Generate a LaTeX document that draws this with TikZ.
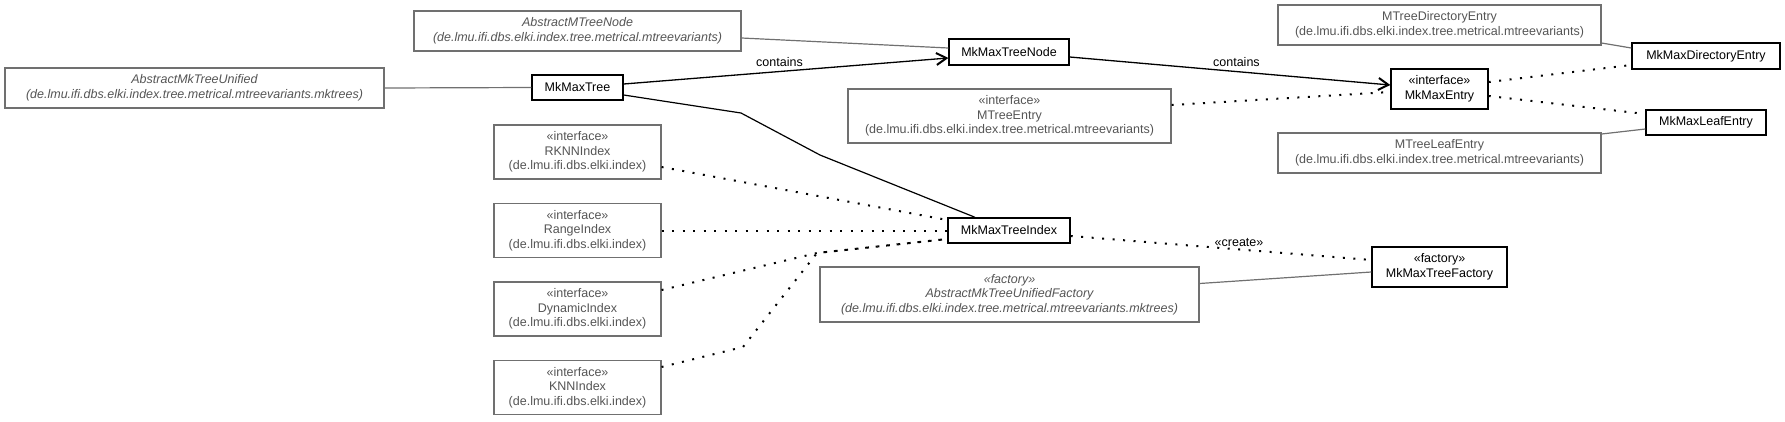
\documentclass[tikz,border=0pt]{standalone}
\usepackage{fontspec}
\setmainfont{Liberation Sans}
\usepackage{xcolor}
\usepackage{tikz}
\usetikzlibrary{positioning,calc,arrows.meta}

\definecolor{umlline}{HTML}{707070}
\definecolor{umltext}{HTML}{555555}

\begin{document}
\begin{tikzpicture}[
    x=1pt, y=-1pt,
    every node/.style={font=\fontsize{12.5}{14.5}\selectfont, align=center, inner sep=0pt},
    cls/.style={draw, line width=1.4pt, fill=white, text=black},
    ext/.style={draw=umlline, line width=1.1pt, fill=white, text=umltext},
    gen/.style={draw=umlline, line width=1.2pt},
    assoc/.style={draw, line width=1.3pt, -{Straight Barb[length=10pt,width=12pt,line width=2pt]}},
    link/.style={draw, line width=1.2pt},
    dep/.style={draw, line width=2pt, dash pattern=on 2pt off 8.5pt},
    lbl/.style={font=\fontsize{12.5}{14.5}\selectfont, text=black}
]
    \useasboundingbox (0,0) rectangle (1785,421);

    % Classes of this package
    \node [cls, minimum width=91pt, minimum height=25pt] (mkmaxtree) at (577.5,87.5) {MkMaxTree};
    \node [cls, minimum width=120pt, minimum height=26pt] (treenode) at (1009,52) {MkMaxTreeNode};
    \node [cls, minimum width=122pt, minimum height=25pt] (treeindex) at (1009,230.5) {MkMaxTreeIndex};
    \node [cls, minimum width=97pt, minimum height=40pt] (entry) at (1439.5,89) {«interface»\\MkMaxEntry};
    \node [cls, minimum width=135pt, minimum height=40pt] (factory) at (1439.5,267) {«factory»\\MkMaxTreeFactory};
    \node [cls, minimum width=148pt, minimum height=26pt] (direntry) at (1706,56) {MkMaxDirectoryEntry};
    \node [cls, minimum width=120pt, minimum height=25pt] (leafentry) at (1706,122.5) {MkMaxLeafEntry};

    % Outside classes
    \node [ext, font=\fontsize{12.5}{14.5}\selectfont\itshape, minimum width=379pt, minimum height=40pt] (unified) at (194.5,88)
        {AbstractMkTreeUnified\\(de.lmu.ifi.dbs.elki.index.tree.metrical.mtreevariants.mktrees)};
    \node [ext, font=\fontsize{12.5}{14.5}\selectfont\itshape, minimum width=327pt, minimum height=40pt] (mtreenode) at (577.5,31)
        {AbstractMTreeNode\\(de.lmu.ifi.dbs.elki.index.tree.metrical.mtreevariants)};
    \node [ext, minimum width=323pt, minimum height=54pt] (mtreeentry) at (1009.5,116)
        {«interface»\\MTreeEntry\\(de.lmu.ifi.dbs.elki.index.tree.metrical.mtreevariants)};
    \node [ext, font=\fontsize{12.5}{14.5}\selectfont\itshape, minimum width=379pt, minimum height=55pt] (unifiedfactory) at (1009.5,294.5)
        {«factory»\\AbstractMkTreeUnifiedFactory\\(de.lmu.ifi.dbs.elki.index.tree.metrical.mtreevariants.mktrees)};
    \node [ext, minimum width=323pt, minimum height=40pt] (mtreedir) at (1439.5,25)
        {MTreeDirectoryEntry\\(de.lmu.ifi.dbs.elki.index.tree.metrical.mtreevariants)};
    \node [ext, minimum width=323pt, minimum height=40pt] (mtreeleaf) at (1439.5,153)
        {MTreeLeafEntry\\(de.lmu.ifi.dbs.elki.index.tree.metrical.mtreevariants)};

    % Index interfaces
    \foreach \name/\ypos in {RKNNIndex/152, RangeIndex/230.5, DynamicIndex/309, KNNIndex/387.5} {
        \node [ext, minimum width=167pt, minimum height=54pt] (\name) at (577.5,\ypos)
            {«interface»\\\name\\(de.lmu.ifi.dbs.elki.index)};
    }

    % Generalizations
    \draw [gen] (unified.east) -- (mkmaxtree.west);
    \draw [gen] ([yshift=-7pt]mtreenode.east) -- ([yshift=4pt]treenode.west);
    \draw [gen] ([yshift=11pt]unifiedfactory.east) -- ([yshift=-5pt]factory.west);
    \draw [gen] ([yshift=-18pt]mtreedir.east) -- ([yshift=8pt]direntry.west);
    \draw [gen] ([yshift=19pt]mtreeleaf.east) -- ([yshift=-6.5pt]leafentry.west);

    % Associations
    \draw [assoc] ([yshift=3.5pt]mkmaxtree.east) -- node [lbl, above=4pt, pos=0.48] {contains} ([yshift=-6pt]treenode.west);
    \draw [assoc] ([yshift=-5pt]treenode.east) -- node [lbl, above=4pt, pos=0.52] {contains} ([yshift=4pt]entry.west);
    \draw [link] ([yshift=-7.5pt]mkmaxtree.east) -- (741,113) -- (820,155) -- ([xshift=-34pt]treeindex.north);

    % Realizations
    \draw [dep] ([yshift=-15pt]RKNNIndex.east) -- ([yshift=10.5pt]treeindex.west);
    \draw [dep] (RangeIndex.east) -- (treeindex.west);
    \draw [dep] ([yshift=19pt]DynamicIndex.east) -- (817,253) -- ([yshift=-8.5pt]treeindex.west);
    \draw [dep] ([yshift=20.5pt]KNNIndex.east) -- (743,347) -- (817,253) -- ([yshift=-8.5pt]treeindex.west);
    \draw [dep] ([yshift=11pt]mtreeentry.east) -- ([yshift=-3pt]entry.west);
    \draw [dep] ([yshift=7pt]entry.east) -- ([yshift=-9pt]direntry.west);
    \draw [dep] ([yshift=-7pt]entry.east) -- ([yshift=8.5pt]leafentry.west);
    \draw [dep] ([yshift=-5.5pt]treeindex.east) -- node [lbl, above=2pt, pos=0.56] {«create»} ([yshift=7pt]factory.west);
\end{tikzpicture}
\end{document}
